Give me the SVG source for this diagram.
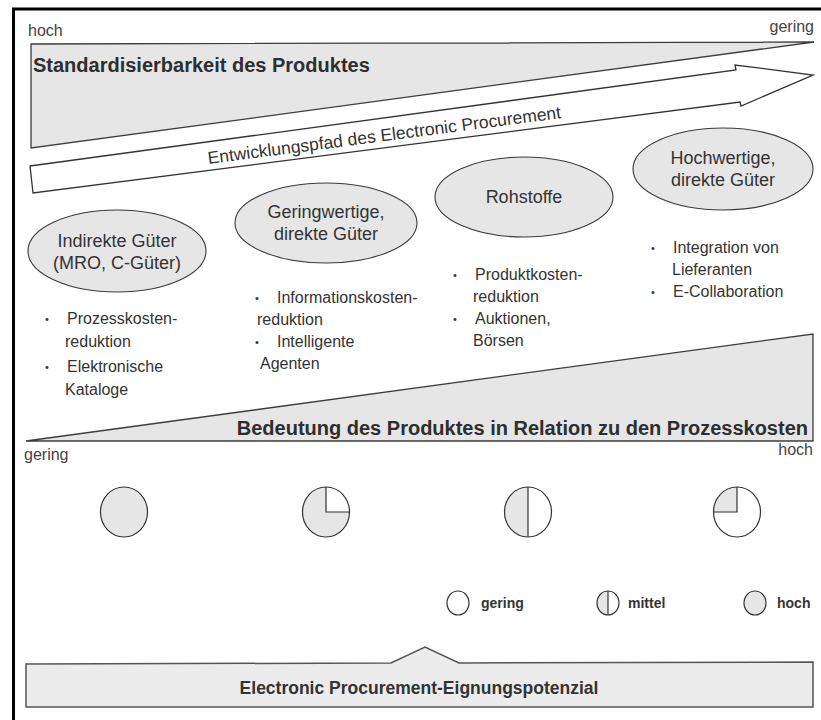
<svg xmlns="http://www.w3.org/2000/svg" width="821" height="720" viewBox="0 0 821 720">
  <defs>
    <style>
      text { font-family: "Liberation Sans", Arial, sans-serif; fill: #333; }
      .hdr { font-size: 16px; fill: #444; }
      .title { font-size: 20px; font-weight: bold; fill: #2e2e2e; }
      .wedge { fill: #e6e6e6; stroke: #3c3c3c; stroke-width: 1.3; }
      .node ellipse { fill: #e6e6e6; stroke: #3a3a3a; stroke-width: 1.1; }
      .node text { font-size: 18px; text-anchor: middle; }
      .list text { font-size: 16px; }
      .list .dot { font-size: 11px; }
      .shade { fill: #e6e6e6; stroke: none; }
      .rim { fill: none; stroke: #333; stroke-width: 1.2; }
      .leg { font-size: 14px; font-weight: bold; }
    </style>
  </defs>

  <rect width="821" height="720" fill="#fff"/>

  <!-- frame: top and left rule only -->
  <g id="frame" stroke="#000" stroke-width="3" fill="none">
    <line x1="12" y1="9" x2="821" y2="9"/>
    <line x1="13.5" y1="8" x2="13.5" y2="720"/>
  </g>

  <!-- upper scale: standardisation, high to low -->
  <g id="scale-standard">
    <text class="hdr" x="28" y="36">hoch</text>
    <text class="hdr" x="814" y="32" text-anchor="end">gering</text>
    <polygon class="wedge" points="31,44 814,42 31,148"/>
    <text class="title" x="33" y="72">Standardisierbarkeit des Produktes</text>
  </g>

  <!-- development path arrow -->
  <g id="connectors">
    <path d="M30,166 L736,70 L735,65 L813,75 L741,106 L740,102 L33,193 Z" fill="#fff" stroke="#333" stroke-width="1.3" stroke-linejoin="miter"/>
    <text x="385" y="141" font-size="17.5" text-anchor="middle" transform="rotate(-7.4 385 141)">Entwicklungspfad des Electronic Procurement</text>
  </g>

  <!-- product categories -->
  <g id="node-indirekt" class="node">
    <ellipse cx="117" cy="251" rx="89" ry="41"/>
    <text x="117" y="247">Indirekte Güter</text>
    <text x="117" y="269">(MRO, C-Güter)</text>
  </g>
  <g id="node-geringwertig" class="node">
    <ellipse cx="326" cy="223" rx="91" ry="40"/>
    <text x="326" y="218">Geringwertige,</text>
    <text x="326" y="240">direkte Güter</text>
  </g>
  <g id="node-rohstoffe" class="node">
    <ellipse cx="524" cy="197" rx="89" ry="40"/>
    <text x="524" y="203">Rohstoffe</text>
  </g>
  <g id="node-hochwertig" class="node">
    <ellipse cx="723" cy="169" rx="90" ry="41"/>
    <text x="723" y="164">Hochwertige,</text>
    <text x="723" y="186">direkte Güter</text>
  </g>

  <!-- bullet lists under each category -->
  <g id="list-indirekt" class="list">
    <text class="dot" x="45" y="323">•</text>
    <text x="67" y="324">Prozesskosten-</text>
    <text x="65" y="347">reduktion</text>
    <text class="dot" x="45" y="371">•</text>
    <text x="67" y="372">Elektronische</text>
    <text x="65" y="395">Kataloge</text>
  </g>
  <g id="list-geringwertig" class="list">
    <text class="dot" x="255" y="302">•</text>
    <text x="277" y="303">Informationskosten-</text>
    <text x="257" y="325">reduktion</text>
    <text class="dot" x="255" y="346">•</text>
    <text x="277" y="347">Intelligente</text>
    <text x="260" y="369">Agenten</text>
  </g>
  <g id="list-rohstoffe" class="list">
    <text class="dot" x="453" y="279">•</text>
    <text x="475" y="280">Produktkosten-</text>
    <text x="473" y="302">reduktion</text>
    <text class="dot" x="453" y="323">•</text>
    <text x="475" y="324">Auktionen,</text>
    <text x="473" y="346">Börsen</text>
  </g>
  <g id="list-hochwertig" class="list">
    <text class="dot" x="651" y="252">•</text>
    <text x="673" y="253">Integration von</text>
    <text x="672" y="275">Lieferanten</text>
    <text class="dot" x="651" y="296">•</text>
    <text x="673" y="297">E-Collaboration</text>
  </g>

  <!-- lower scale: importance relative to process costs -->
  <g id="scale-bedeutung">
    <polygon class="wedge" points="26,441 813,334 813,441"/>
    <text class="title" x="808" y="435" text-anchor="end">Bedeutung des Produktes in Relation zu den Prozesskosten</text>
    <text class="hdr" x="24" y="460">gering</text>
    <text class="hdr" x="813" y="455" text-anchor="end">hoch</text>
  </g>

  <!-- suitability ratings per category -->
  <g id="rating-indirekt">
    <ellipse class="shade" cx="124" cy="512" rx="23.5" ry="25"/>
    <ellipse class="rim" cx="124" cy="512" rx="23.5" ry="25"/>
  </g>
  <g id="rating-geringwertig">
    <ellipse class="shade" cx="326" cy="512" rx="23.5" ry="25"/>
    <path d="M326,512 L326,487 A23.5,25 0 0 1 349.5,512 Z" fill="#fff"/>
    <ellipse class="rim" cx="326" cy="512" rx="23.5" ry="25"/>
    <path class="rim" d="M326,487 L326,512 L349.5,512"/>
  </g>
  <g id="rating-rohstoffe">
    <path class="shade" d="M528,487 A23.5,25 0 0 0 528,537 Z"/>
    <ellipse class="rim" cx="528" cy="512" rx="23.5" ry="25"/>
    <line class="rim" x1="528" y1="487" x2="528" y2="537"/>
  </g>
  <g id="rating-hochwertig">
    <path class="shade" d="M737,512 L713.5,512 A23.5,25 0 0 1 737,487 Z"/>
    <ellipse class="rim" cx="737" cy="512" rx="23.5" ry="25"/>
    <path class="rim" d="M737,487 L737,512 L713.5,512"/>
  </g>

  <!-- legend -->
  <g id="legend">
    <ellipse class="rim" cx="458" cy="603" rx="11" ry="12" fill="#fff"/>
    <text class="leg" x="481" y="608">gering</text>
    <path class="shade" d="M608,591 A11,12 0 0 0 608,615 Z"/>
    <ellipse class="rim" cx="608" cy="603" rx="11" ry="12"/>
    <line class="rim" x1="608" y1="591" x2="608" y2="615"/>
    <text class="leg" x="628" y="608">mittel</text>
    <ellipse class="shade" cx="755" cy="603" rx="11" ry="12"/>
    <ellipse class="rim" cx="755" cy="603" rx="11" ry="12"/>
    <text class="leg" x="777" y="608">hoch</text>
  </g>

  <!-- resulting potential -->
  <g id="node-potenzial">
    <path d="M26,664 L391,663 L425,647 L459,663 L813,662 L813,707 L26,707 Z" fill="#ececec" stroke="#555" stroke-width="1.5"/>
    <text x="419" y="694" font-size="17.5" font-weight="bold" text-anchor="middle">Electronic Procurement-Eignungspotenzial</text>
  </g>
</svg>
